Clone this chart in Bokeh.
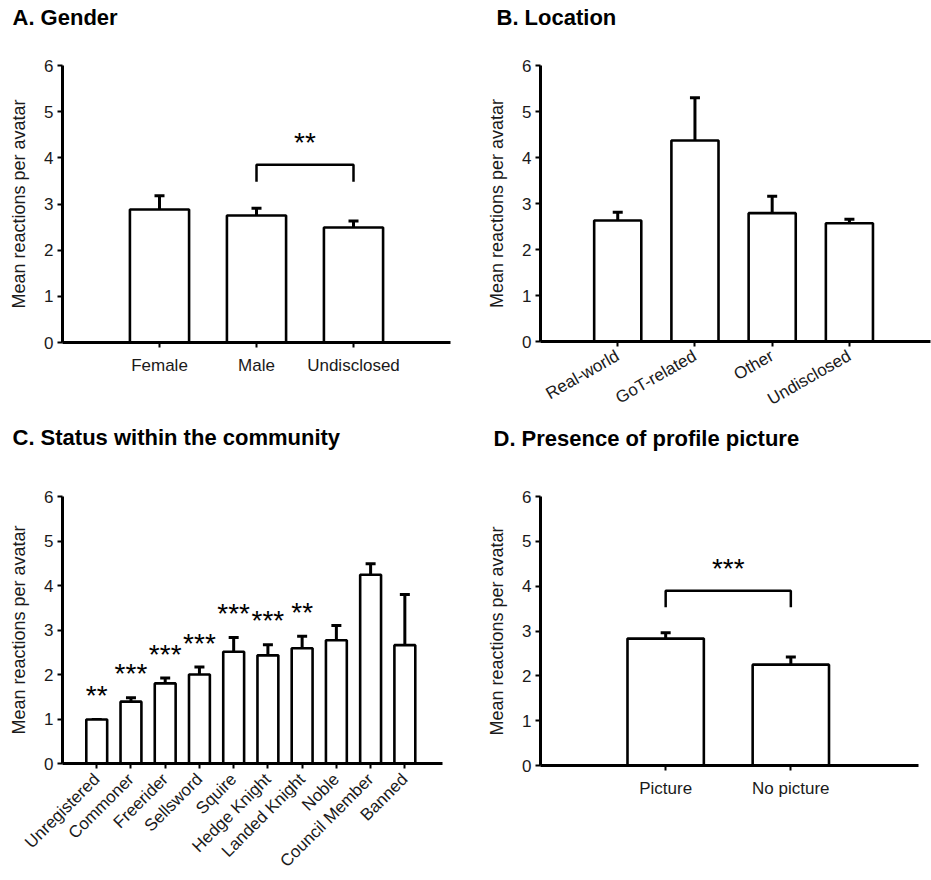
from bokeh.plotting import figure
from bokeh.models import (ColumnDataSource, Whisker, TeeHead, FixedTicker, Range1d, Title)
from bokeh.layouts import column, row
from bokeh.embed import file_html
from bokeh.resources import INLINE
from bokeh.core.properties import value

# ---------------- data ----------------
gender_cats = ["Female", "Male", "Undisclosed"]
gender_mean = [2.88, 2.75, 2.49]
gender_err = [0.30, 0.16, 0.14]
gender_sig_pair = (1, 2)      # Male vs Undisclosed
gender_sig_text = "**"

loc_cats = ["Real-world", "GoT-related", "Other", "Undisclosed"]
loc_mean = [2.63, 4.37, 2.79, 2.57]
loc_err = [0.18, 0.93, 0.37, 0.09]

status_cats = ["Unregistered", "Commoner", "Freerider", "Sellsword", "Squire",
               "Hedge Knight", "Landed Knight", "Noble", "Council Member", "Banned"]
status_mean = [0.99, 1.39, 1.80, 2.00, 2.51, 2.43, 2.59, 2.77, 4.24, 2.66]
status_err = [0.00, 0.09, 0.12, 0.17, 0.32, 0.24, 0.27, 0.33, 0.25, 1.14]
status_sig = ["**", "***", "***", "***", "***", "***", "**", "", "", ""]

pic_cats = ["Picture", "No picture"]
pic_mean = [2.83, 2.25]
pic_err = [0.13, 0.17]
pic_sig_pair = (0, 1)
pic_sig_text = "***"

titles = ["A. Gender", "B. Location", "C. Status within the community",
          "D. Presence of profile picture"]

FONT = "Liberation Sans"
YLABEL = "Mean reactions per avatar"
TITLE_H = 40


def make_title(text, width, left, right, tx, top_pad):
    t = figure(width=width, height=TITLE_H, output_backend="svg", toolbar_location=None,
               x_range=Range1d(0, 1), y_range=Range1d(0, 1),
               min_border_left=left, min_border_right=right,
               min_border_top=top_pad, min_border_bottom=0,
               x_axis_type=None, y_axis_type=None)
    t.outline_line_color = None
    t.grid.visible = False
    t.add_layout(Title(text=text, align="left", offset=tx - left, standoff=0,
                       text_font=FONT, text_font_size="22px", text_font_style="bold",
                       text_color="black"), "above")
    return t


def make_panel(cats, means, errs, width, height, borders, x_end,
               label_angle=0.0, sig_pair=None, sig_text=None, per_bar_sig=None):
    left, right, top, bottom = borders
    p = figure(width=width, height=height, output_backend="svg", toolbar_location=None,
               x_range=Range1d(0, x_end), y_range=Range1d(0, 6),
               min_border_left=left, min_border_right=right,
               min_border_top=top, min_border_bottom=bottom,
               background_fill_color="white", border_fill_color="white")
    p.outline_line_color = None
    p.grid.visible = False

    xs = list(range(1, len(cats) + 1))
    tops = [m + e for m, e in zip(means, errs)]
    src = ColumnDataSource(dict(x=xs, mean=means, top=tops))

    p.vbar(x="x", top="mean", bottom=0, width=0.61, source=src,
           fill_color="white", line_color="black", line_width=2.6)
    w = Whisker(base="x", lower="mean", upper="top", source=src,
                line_color="black", line_width=3,
                upper_head=TeeHead(size=10, line_width=3, line_color="black"),
                lower_head=None)
    p.add_layout(w)

    for ax in (p.xaxis[0], p.yaxis[0]):
        ax.axis_line_width = 3
        ax.axis_line_color = "black"
        ax.major_tick_line_width = 2
        ax.major_tick_line_color = "black"
        ax.minor_tick_line_color = None
        ax.major_tick_in = 0
        ax.major_tick_out = 5
        ax.major_label_text_font = FONT
        ax.major_label_text_color = "#1a1a1a"

    p.yaxis.ticker = FixedTicker(ticks=[0, 1, 2, 3, 4, 5, 6])
    p.yaxis.major_label_text_font_size = "17px"
    p.yaxis.major_label_standoff = 4
    p.yaxis.axis_label = YLABEL
    p.yaxis.axis_label_text_font = FONT
    p.yaxis.axis_label_text_font_size = "18px"
    p.yaxis.axis_label_text_font_style = "normal"
    p.yaxis.axis_label_text_color = "#1a1a1a"
    p.yaxis.axis_label_standoff = 12

    p.xaxis.ticker = FixedTicker(ticks=xs)
    p.xaxis.major_label_overrides = {x: c for x, c in zip(xs, cats)}
    p.xaxis.major_label_text_font_size = "17px"
    p.xaxis.major_label_standoff = 8
    if label_angle:
        p.xaxis.major_label_orientation = label_angle

    star_fs = 28
    if sig_pair is not None:
        i, j = sig_pair
        base = max(tops[i], tops[j])
        y_end = base + 0.57
        y_top = y_end + 0.37
        p.line([xs[i], xs[i], xs[j], xs[j]], [y_end, y_top, y_top, y_end],
               line_color="black", line_width=2.5)
        p.text(x=[(xs[i] + xs[j]) / 2], y=[y_top + 0.55], text=[sig_text],
               text_font=value(FONT), text_font_size=f"{star_fs}px",
               text_align="center", text_baseline="alphabetic",
               y_offset=3, text_color="black")
    if per_bar_sig is not None:
        sx = [x for x, s in zip(xs, per_bar_sig) if s]
        sy = [t + 0.6 for t, s in zip(tops, per_bar_sig) if s]
        st = [s for s in per_bar_sig if s]
        p.text(x=sx, y=sy, text=st, text_font=value(FONT),
               text_font_size=f"{star_fs}px", text_align="center",
               text_baseline="alphabetic", y_offset=3, text_color="black")
    return p


pA = make_panel(gender_cats, gender_mean, gender_err,
                460, 380, (62, 10, 25, 78), 4.0,
                sig_pair=gender_sig_pair, sig_text=gender_sig_text)
pB = make_panel(loc_cats, loc_mean, loc_err,
                471, 380, (80, 1, 25, 78), 5.05, label_angle=0.52)
pC = make_panel(status_cats, status_mean, status_err,
                460, 420, (62, 18, 36, 114), 11.1, label_angle=0.785,
                per_bar_sig=status_sig)
pD = make_panel(pic_cats, pic_mean, pic_err,
                471, 420, (80, 13, 36, 115), 3.02,
                sig_pair=pic_sig_pair, sig_text=pic_sig_text)

tA = make_title(titles[0], 460, 62, 10, 12, 29)
tB = make_title(titles[1], 471, 80, 1, 36, 29)
tC = make_title(titles[2], 460, 62, 18, 12, 29)
tD = make_title(titles[3], 471, 80, 13, 33, 30)

layout = column(row(column(tA, pA), column(tB, pB)),
                row(column(tC, pC), column(tD, pD)))
open("out.html", "w").write(file_html(layout, INLINE))
